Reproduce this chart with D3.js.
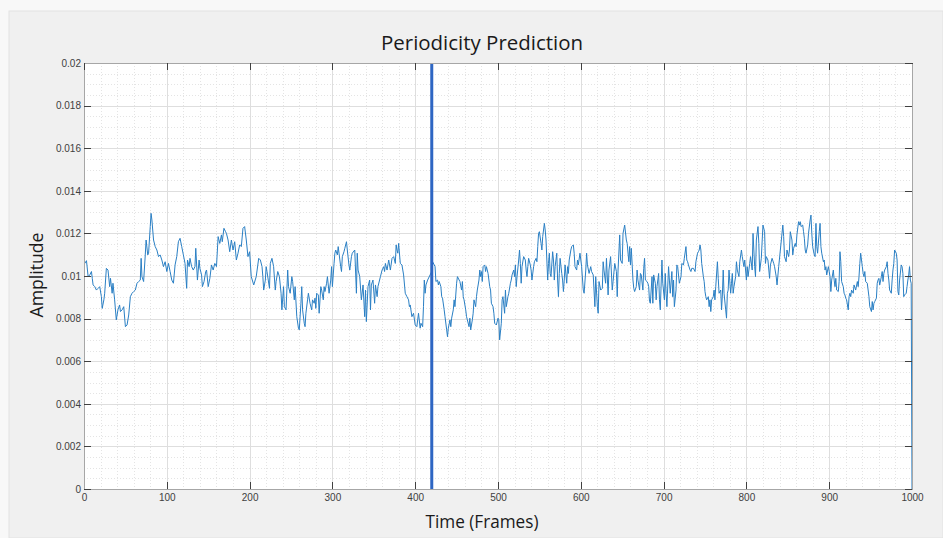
<!DOCTYPE html>
<html>
<head>
<meta charset="utf-8">
<script src="https://cdn.jsdelivr.net/npm/d3@7"></script>
<style>
  body { margin: 0; background: #f6f6f6; }
  .axis path, .axis line { stroke: #404040; shape-rendering: crispEdges; }
  .axis path.domain { stroke: #a6a6a6; }
  .axis text { fill: #404040; font-family: "Liberation Sans", Arial, sans-serif; font-size: 10px; }
  .grid line { shape-rendering: crispEdges; }
  .lbl { font-family: "Open Sans", "Noto Sans", sans-serif; fill: #1a1a1a; }
</style>
</head>
<body>
<div id="chart"></div>
<script>
// amplitude, per frame
var frames = [1,3,5,7,9,10,11,13,15,17,19,21,22,24,25,27,29,31,32,34,35,37,39,41,43,44,46,48,50,52,54,56,58,60,62,64,66,68,69,70,72,74,75,77,78,80,81,82,84,86,88,90,92,94,96,98,
  100,102,104,106,108,110,112,114,116,118,120,122,124,125,127,128,130,132,134,135,137,139,140,142,143,145,147,148,150,152,154,156,158,160,162,164,166,167,169,171,172,174,176,178,180,182,184,186,188,190,192,194,196,198,
  200,202,205,208,211,213,215,216,217,219,220,221,224,225,227,229,231,232,234,236,238,239,241,242,244,245,246,247,249,251,252,254,255,257,259,260,262,263,264,266,267,268,270,271,273,275,276,278,279,280,281,283,284,286,287,289,290,291,293,294,296,298,299,
  300,302,303,304,306,307,308,310,311,312,314,315,317,318,320,321,323,324,327,329,330,331,333,335,337,339,340,341,343,345,346,347,349,351,352,354,355,358,360,362,363,364,366,368,370,372,374,376,377,378,379,380,382,384,386,388,390,392,393,394,396,398,
  400,402,403,404,406,407,409,410,411,412,413,415,418,420,421,423,424,425,427,428,429,431,432,433,435,436,438,439,440,442,443,444,446,447,448,450,451,454,456,457,458,459,461,462,463,465,466,467,469,470,471,473,474,475,477,478,479,480,481,482,484,485,486,488,490,491,492,494,495,496,498,
  500,501,502,504,505,506,508,509,510,512,513,515,516,517,519,520,521,522,523,525,526,527,528,529,531,533,534,535,536,537,539,540,541,543,544,546,547,548,549,550,552,553,554,556,557,558,560,561,562,563,564,566,567,568,569,571,572,573,574,575,577,578,579,580,581,583,584,585,586,588,589,591,592,593,595,596,597,599,
  601,603,604,606,607,608,610,612,613,615,617,618,620,621,622,624,626,627,628,630,631,633,634,636,638,639,641,643,644,645,647,648,650,651,653,655,656,658,659,660,661,663,664,665,667,668,669,671,672,673,675,676,677,678,680,681,682,683,684,686,687,688,690,691,692,694,695,696,698,699,
  701,702,703,704,706,707,708,710,711,712,713,715,716,717,719,721,722,724,725,727,728,729,730,732,733,734,736,738,739,741,742,743,744,745,746,748,749,750,751,752,754,755,756,757,758,760,761,762,763,765,766,767,769,770,771,772,773,775,776,777,778,779,781,782,783,784,785,787,788,789,791,792,794,795,797,798,
  800,801,802,804,805,807,808,810,811,812,814,815,816,818,820,822,823,824,826,828,829,831,833,834,836,837,839,841,843,844,845,846,848,849,851,852,853,855,856,857,859,860,861,863,864,865,866,868,869,870,871,872,874,875,877,878,879,880,882,883,884,885,886,888,889,890,891,893,894,895,896,897,899,
  900,901,902,903,905,906,907,908,909,911,912,913,914,915,917,918,919,920,921,923,924,925,926,927,929,930,932,934,935,936,937,938,940,941,942,943,944,946,948,949,951,952,953,954,955,957,958,959,960,961,963,964,965,966,967,969,970,971,972,973,975,976,977,978,979,981,982,983,984,985,987,988,989,990,991,993,994,995,996,997,998,999,1000];

var amplitude = [.01059,.01072,.00997,.01005,.01021,.00989,.00958,.00950,.00934,.00942,.00950,.00903,.00848,.00888,.00919,.01036,.01028,.00950,.00989,.00919,.00966,.00888,.00794,.00841,.00864,.00833,.00841,.00856,.00762,.00770,.00817,.00903,.00919,.00927,.00934,.00966,.00974,.00981,.01083,.00997,.00974,.01099,.01169,.01099,.01107,.01232,.01294,.01263,.01169,.01138,.01122,.01091,.01099,.01075,.01044,.01067,
  .01021,.01059,.01021,.00981,.00966,.01052,.01091,.01161,.01177,.01138,.01099,.01059,.00942,.01075,.01044,.01083,.01044,.01028,.01044,.01130,.00981,.01075,.01036,.01005,.00950,.00974,.01021,.01028,.00950,.00989,.01052,.01028,.01059,.01044,.01185,.01153,.01193,.01161,.01224,.01208,.01200,.01169,.01114,.01169,.01122,.01161,.01075,.01107,.01146,.01138,.01224,.01232,.01169,.01091,
  .01114,.00997,.00958,.00997,.01083,.01075,.01044,.00997,.00934,.00981,.01044,.01021,.00942,.01059,.01083,.01044,.00934,.00974,.01021,.00997,.00919,.00841,.00950,.00856,.00841,.00934,.01028,.00950,.00919,.00997,.00974,.00888,.00950,.00809,.00755,.00747,.00872,.00950,.00841,.00778,.00762,.00825,.00888,.00919,.00872,.00841,.00888,.00872,.00896,.00848,.00919,.00911,.00825,.00950,.00934,.00888,.00950,.00927,.00966,.00997,.00919,.00981,.01044,
  .00950,.01059,.01107,.01122,.01099,.01138,.01107,.01044,.01021,.01091,.01114,.01130,.01161,.01122,.01052,.01028,.01091,.01107,.01122,.00919,.01107,.01028,.00997,.00888,.00958,.00809,.00934,.00786,.00950,.00981,.00841,.00958,.00981,.00872,.00958,.00903,.00950,.00997,.01028,.01044,.01021,.01059,.01028,.01075,.01028,.01083,.01091,.01059,.01146,.01122,.01107,.01153,.01059,.01052,.01005,.00919,.00903,.00888,.00856,.00864,.00809,.00825,
  .00770,.00762,.00794,.00825,.00755,.00778,.00762,.00856,.00981,.00919,.00958,.00981,.01005,.01021,.01067,.01052,.01044,.00974,.00981,.00958,.00974,.00950,.00903,.00896,.00841,.00809,.00747,.00715,.00755,.00794,.00762,.00802,.00841,.00888,.00856,.00966,.00997,.00974,.00934,.00974,.00903,.00888,.00841,.00809,.00794,.00762,.00802,.00747,.00794,.00825,.00888,.00856,.00903,.00934,.00981,.01028,.00997,.01021,.00974,.01044,.01052,.01021,.01044,.01012,.00950,.00934,.00872,.00856,.00825,.00778,.00770,
  .00802,.00794,.00700,.00778,.00888,.00903,.00825,.00934,.00856,.00903,.00919,.00966,.00981,.01005,.01028,.00997,.01052,.00950,.00997,.01075,.01122,.01059,.00966,.01044,.01091,.01075,.01028,.00997,.01044,.01083,.01052,.01028,.00981,.01044,.01067,.01083,.01067,.01138,.01200,.01208,.01153,.01122,.01185,.01247,.01216,.01169,.00981,.01059,.01107,.01012,.00997,.01114,.01075,.00981,.01044,.01107,.00981,.00903,.01012,.01083,.01012,.00981,.00927,.00981,.01052,.00966,.01044,.01012,.01075,.01122,.01138,.01146,.01107,.01044,.01028,.01075,.01052,.01107,
  .01044,.00934,.00919,.01028,.01107,.01052,.01012,.01044,.01021,.01005,.00856,.00997,.00856,.00825,.00974,.00934,.00942,.01067,.01028,.00966,.01083,.00911,.01028,.01091,.00934,.00974,.01059,.01021,.00903,.01028,.01193,.01075,.01059,.01200,.01239,.01169,.01153,.01067,.01138,.01052,.01130,.00981,.00942,.00927,.00950,.01028,.00981,.00934,.01012,.01005,.00934,.01036,.01083,.00981,.00974,.00966,.00950,.00880,.00872,.00997,.00872,.01005,.00966,.00888,.00950,.01012,.00888,.00841,.01075,.00966,
  .00888,.01012,.00919,.00856,.01044,.00981,.00919,.01021,.00903,.00981,.00856,.00934,.01052,.01044,.00966,.00997,.01059,.01052,.01083,.01138,.01075,.01067,.01052,.01028,.01021,.01036,.01036,.01021,.01067,.01107,.01114,.01122,.01146,.01122,.01059,.00997,.00974,.00927,.00903,.00888,.00903,.00856,.00888,.00833,.00888,.00903,.00934,.00888,.00950,.01067,.00989,.00919,.00934,.00841,.00911,.01028,.00919,.00841,.00802,.00919,.00934,.01028,.00919,.00966,.01012,.00919,.00950,.00997,.01067,.01028,.00997,.01067,.01122,.01091,.01044,.01075,
  .00981,.01044,.00997,.01059,.01091,.01028,.01200,.01044,.00997,.01169,.01232,.01153,.01021,.01083,.01239,.01208,.01059,.01091,.01075,.00989,.01052,.01083,.01059,.01044,.00997,.00958,.01044,.01122,.01200,.01239,.01185,.01091,.01067,.01122,.01091,.01122,.01208,.01169,.01099,.01130,.01153,.01138,.01193,.01255,.01239,.01255,.01232,.01239,.01208,.01177,.01122,.01107,.01146,.01200,.01263,.01286,.01200,.01138,.01099,.01091,.01247,.01138,.01107,.01208,.01247,.01138,.01107,.01067,.01075,.01028,.01044,.01005,.01044,
  .01021,.00997,.00927,.00981,.01028,.00981,.00950,.00989,.00934,.00927,.00974,.01114,.01067,.00974,.00950,.00919,.00911,.00896,.00888,.00841,.00903,.00919,.00903,.00934,.00919,.00958,.00934,.00974,.00950,.00997,.01059,.01107,.01044,.01012,.00997,.01021,.00974,.00966,.00903,.00856,.00833,.00880,.00841,.00872,.00880,.00896,.00966,.00981,.00989,.00958,.00997,.01021,.00974,.01012,.01028,.01044,.01067,.01012,.00981,.00934,.00919,.00981,.01028,.01059,.01122,.01107,.01075,.00927,.00911,.00981,.01052,.01044,.01012,.00903,.00911,.00919,.00950,.00981,.01005,.01044,.00981,.00966,0];

var xTicks = [0, 100, 200, 300, 400, 500, 600, 700, 800, 900, 1000];
var yTicks = [0, 0.002, 0.004, 0.006, 0.008, 0.01, 0.012, 0.014, 0.016, 0.018, 0.02];
var markerFrame = 420;

var W = 943, H = 538;
var m = { top: 63, right: 31, bottom: 49, left: 84 };
var width = W - m.left - m.right,
  height = H - m.top - m.bottom;

var svg = d3.select("#chart").append("svg")
  .attr("width", W)
  .attr("height", H);

// figure window background
svg.append("rect").attr("width", W).attr("height", H).attr("fill", "#f8f8f8");
svg.append("rect")
  .attr("x", 9).attr("y", 11)
  .attr("width", W - 9).attr("height", H - 11)
  .attr("fill", "#f0f0f0")
  .attr("stroke", "#e2e2e2");

var g = svg.append("g").attr("transform", "translate(" + m.left + "," + m.top + ")");

var x = d3.scaleLinear().domain([0, 1000]).range([0, width]);
var y = d3.scaleLinear().domain([0, 0.02]).range([height, 0]);

g.append("rect").attr("width", width).attr("height", height).attr("fill", "#fff");

// minor grid (dotted)
var grid = g.append("g").attr("class", "grid");
grid.selectAll("line.xminor")
  .data(d3.range(0, 1001, 20).filter(function(d) { return d % 100 !== 0; }))
  .enter().append("line")
  .attr("x1", function(d) { return Math.round(x(d)) + 0.5; })
  .attr("x2", function(d) { return Math.round(x(d)) + 0.5; })
  .attr("y1", 0).attr("y2", height)
  .attr("stroke", "#e4e4e4").attr("stroke-dasharray", "1,2");
grid.selectAll("line.yminor")
  .data(d3.range(0, 41).map(function(i) { return i * 0.0005; }).filter(function(d, i) { return i % 4 !== 0; }))
  .enter().append("line")
  .attr("x1", 0).attr("x2", width)
  .attr("y1", function(d) { return Math.round(y(d)) + 0.5; })
  .attr("y2", function(d) { return Math.round(y(d)) + 0.5; })
  .attr("stroke", "#e4e4e4").attr("stroke-dasharray", "1,2");

// major grid
grid.selectAll("line.xmajor")
  .data(xTicks)
  .enter().append("line")
  .attr("x1", function(d) { return Math.round(x(d)) + 0.5; })
  .attr("x2", function(d) { return Math.round(x(d)) + 0.5; })
  .attr("y1", 0).attr("y2", height)
  .attr("stroke", "#dedede");
grid.selectAll("line.ymajor")
  .data(yTicks)
  .enter().append("line")
  .attr("x1", 0).attr("x2", width)
  .attr("y1", function(d) { return Math.round(y(d)) + 0.5; })
  .attr("y2", function(d) { return Math.round(y(d)) + 0.5; })
  .attr("stroke", "#dedede");

// signal
var line = d3.line()
  .x(function(d, i) { return x(frames[i]); })
  .y(function(d) { return y(d); });
g.append("path")
  .datum(amplitude)
  .attr("d", line)
  .attr("fill", "none")
  .attr("stroke", "#2a7fc4")
  .attr("stroke-width", 1)
  .attr("stroke-linejoin", "round");

// prediction marker
g.append("line")
  .attr("x1", x(markerFrame)).attr("x2", x(markerFrame))
  .attr("y1", 0).attr("y2", height)
  .attr("stroke", "#2e66c3")
  .attr("stroke-width", 3);

// axes, ticks pointing inward like matlab
var fmt = d3.format("~g");
g.append("g").attr("class", "axis")
  .attr("transform", "translate(0," + height + ")")
  .call(d3.axisBottom(x).tickValues(xTicks).tickFormat(d3.format("d")).tickSizeInner(-7).tickSizeOuter(0).tickPadding(5));
g.append("g").attr("class", "axis")
  .call(d3.axisLeft(y).tickValues(yTicks).tickFormat(fmt).tickSizeInner(-7).tickSizeOuter(0).tickPadding(3));
g.append("g").attr("class", "axis")
  .call(d3.axisTop(x).tickValues(xTicks).tickFormat("").tickSizeInner(-7).tickSizeOuter(0));
g.append("g").attr("class", "axis")
  .attr("transform", "translate(" + width + ",0)")
  .call(d3.axisRight(y).tickValues(yTicks).tickFormat("").tickSizeInner(-7).tickSizeOuter(0));

// labels
svg.append("text").attr("class", "lbl")
  .attr("x", 482).attr("y", 50)
  .attr("text-anchor", "middle")
  .attr("font-size", 20)
  .attr("textLength", 202).attr("lengthAdjust", "spacingAndGlyphs")
  .text("Periodicity Prediction");
svg.append("text").attr("class", "lbl")
  .attr("x", 482).attr("y", 528)
  .attr("text-anchor", "middle")
  .attr("font-size", 18)
  .attr("textLength", 113).attr("lengthAdjust", "spacingAndGlyphs")
  .text("Time (Frames)");
svg.append("text").attr("class", "lbl")
  .attr("transform", "translate(43,275) rotate(-90)")
  .attr("text-anchor", "middle")
  .attr("font-size", 18)
  .attr("textLength", 85).attr("lengthAdjust", "spacingAndGlyphs")
  .text("Amplitude");
</script>
</body>
</html>
